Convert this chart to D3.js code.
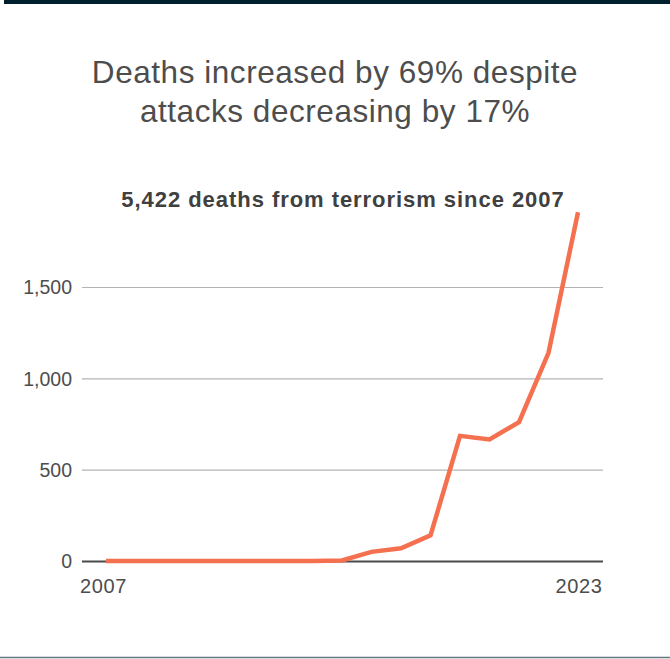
<!DOCTYPE html>
<html>
<head>
<meta charset="utf-8">
<script src="https://cdn.jsdelivr.net/npm/d3@7"></script>
<style>
  body { margin: 0; background: #fff; }
  svg { display: block; font-family: "Liberation Sans", Arial, sans-serif; }
</style>
</head>
<body>
<svg id="chart" width="670" height="659"></svg>
<script>
const years = [2007, 2008, 2009, 2010, 2011, 2012, 2013, 2014, 2015,
  2016, 2017, 2018, 2019, 2020, 2021, 2022, 2023];
const deaths = [0, 0, 0, 0, 0, 0, 0, 0, 3,
  50, 70, 140, 685, 665, 760, 1140, 1909];
const yTicks = [0, 500, 1000, 1500];
const xTickLabels = [2007, 2023];
const titleLines = ['Deaths increased by 69% despite', 'attacks decreasing by 17%'];
const subtitle = '5,422 deaths from terrorism since 2007';

const data = years.map((year, i) => ({ year, value: deaths[i] }));

const svg = d3.select('#chart');
const margin = { top: 200, left: 82, right: 67, bottom: 98 };
const width = 670;

// frame bars
svg.append('rect')
    .attr('x', 4).attr('y', 0)
    .attr('width', width - 4).attr('height', 4)
    .attr('fill', '#00202e');
svg.append('line')
    .attr('x1', 0).attr('x2', width)
    .attr('y1', 657.5).attr('y2', 657.5)
    .attr('stroke', '#62797f')
    .attr('stroke-width', 1.5);

// titles
svg.append('text')
    .attr('x', 335)
    .attr('y', 83)
    .attr('text-anchor', 'middle')
    .attr('fill', '#4d4d4d')
    .attr('font-size', 31.5)
    .attr('letter-spacing', 0.55)
  .selectAll('tspan')
  .data(titleLines)
  .join('tspan')
    .attr('x', 335)
    .attr('dy', (d, i) => i === 0 ? 0 : 39)
    .text(d => d);

svg.append('text')
    .attr('x', 343)
    .attr('y', 207)
    .attr('text-anchor', 'middle')
    .attr('fill', '#404040')
    .attr('font-size', 22)
    .attr('font-weight', 'bold')
    .attr('letter-spacing', 0.95)
    .text(subtitle);

const x = d3.scaleLinear()
    .domain(d3.extent(years))
    .range([106, 578]);
const y = d3.scaleLinear()
    .domain([0, 1500])
    .range([561, 287]);

// gridlines + y labels
const yAxis = svg.append('g')
    .attr('transform', `translate(${margin.left},0)`)
    .call(d3.axisRight(y)
      .tickValues(yTicks)
      .tickSize(603 - margin.left)
      .tickFormat(d3.format(',')));
yAxis.select('.domain').remove();
yAxis.selectAll('.tick line')
    .attr('stroke', d => d === 0 ? '#4a4a4a' : '#b3b3b3')
    .attr('stroke-width', d => d === 0 ? 2 : 1.2);
yAxis.selectAll('.tick text')
    .attr('x', -10)
    .attr('dy', '0.35em')
    .attr('text-anchor', 'end')
    .attr('fill', '#4d4d4d')
    .attr('font-size', 19.5)
    .attr('font-family', '"Liberation Sans", Arial, sans-serif');

// x labels
const xAxis = svg.append('g')
    .attr('transform', 'translate(0,561)')
    .call(d3.axisBottom(x)
      .tickValues(xTickLabels)
      .tickSize(0)
      .tickFormat(d3.format('d')));
xAxis.select('.domain').remove();
xAxis.selectAll('.tick text')
    .attr('y', 32)
    .attr('dy', 0)
    .attr('fill', '#4d4d4d')
    .attr('font-size', 20)
    .attr('letter-spacing', 0.6)
    .attr('font-family', '"Liberation Sans", Arial, sans-serif')
    .attr('text-anchor', d => d === 2023 ? 'end' : 'middle')
    .attr('dx', d => d === 2023 ? 24 : -3);

// line
const line = d3.line()
    .x(d => x(d.year))
    .y(d => y(d.value));

svg.append('path')
    .datum(data)
    .attr('fill', 'none')
    .attr('stroke', '#f4704f')
    .attr('stroke-width', 4.5)
    .attr('stroke-linejoin', 'miter')
    .attr('d', line);
</script>
</body>
</html>
